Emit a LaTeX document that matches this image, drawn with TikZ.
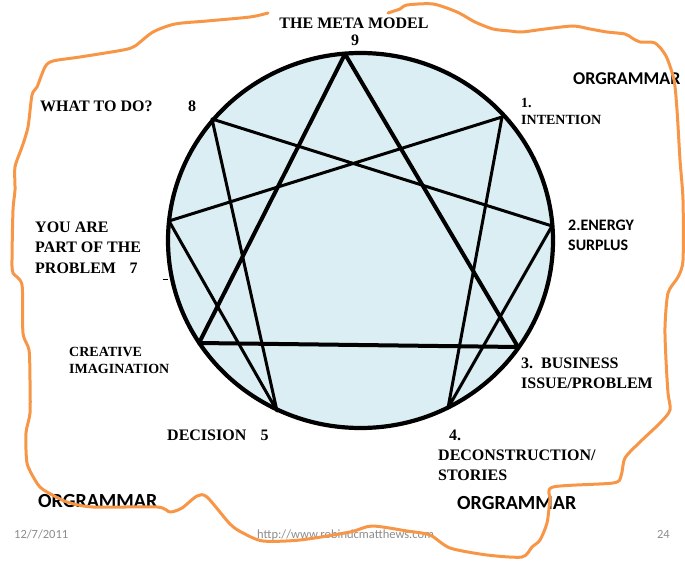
\documentclass[tikz,border=0pt]{standalone}
\usepackage{fontspec}
\setmainfont{Liberation Serif}
\newfontfamily\calib{Carlito}
\definecolor{fillblue}{HTML}{DAEEF3}
\definecolor{orgorange}{HTML}{F79646}
\definecolor{footgray}{HTML}{8C8C8C}
\begin{document}
\begin{tikzpicture}[x=1pt,y=-1pt,
  lbl/.style={anchor=base west, inner sep=0pt, font=\bfseries\fontsize{16}{19}\selectfont},
  lblc/.style={anchor=base, inner sep=0pt, font=\bfseries\fontsize{16}{19}\selectfont},
  small/.style={anchor=base west, inner sep=0pt, font=\bfseries\fontsize{14}{17}\selectfont},
  sanslbl/.style={anchor=base west, inner sep=0pt, font=\calib\bfseries\fontsize{16}{19}\selectfont},
  orglbl/.style={anchor=base west, inner sep=0pt, font=\calib\bfseries\fontsize{20}{24}\selectfont},
  foot/.style={anchor=base west, inner sep=0pt, text=footgray, font=\calib\fontsize{12.5}{15}\selectfont},
  hexline/.style={line width=3pt, line join=round},
  triline/.style={line width=4pt, line join=round},
  rim/.style={line width=4.2pt},
  scribble/.style={orgorange, line width=3pt, line cap=round, line join=round}]
\useasboundingbox (0,0) rectangle (685,561);

% circle
\fill[fillblue] (360.5,240.5) ellipse [x radius=192.5pt, y radius=187.5pt];

% enneagram points
\coordinate (p9) at (345,54);
\coordinate (p1) at (502,117);
\coordinate (p2) at (552,226);
\coordinate (p3) at (518,347);
\coordinate (p4) at (448,408);
\coordinate (p5) at (277,411);
\coordinate (p6) at (199,343);
\coordinate (p7) at (169,221);
\coordinate (p8) at (212,119);

\draw[hexline] (p1) -- (p4) -- (p2) -- (p8) -- (p5) -- (p7) -- cycle;
\draw[triline] (p9) -- (p3) -- (p6) -- cycle;
\draw[rim] (360.5,240.5) ellipse [x radius=192.5pt, y radius=187.5pt];

% small tick
\coordinate (tickA) at (162.5,279);
\coordinate (tickB) at (168,279);
\draw[line width=0.8pt] (tickA) -- (tickB);

% labels
\node[lblc] (title) at (354,29) {THE META MODEL};
\node[lblc] (n9) at (355,46) {9};
\node[lbl] (whattodo) at (40,112) {WHAT TO DO?};
\node[lblc] (n8) at (192,112) {8};
\node[small] (n1) at (521,108) {1.};
\node[small] (intention) at (521,125) {INTENTION};
\node[sanslbl] (energy) at (568,231) {2.ENERGY};
\node[sanslbl] (surplus) at (568,251) {SURPLUS};
\node[lbl] (business) at (521,368) {3.\ \ BUSINESS};
\node[lbl] (issue) at (521,388) {ISSUE/PROBLEM};
\node[lbl] (n4) at (449,440) {4.};
\node[lbl] (decon) at (438,460) {DECONSTRUCTION/};
\node[lbl] (stories) at (438,480) {STORIES};
\node[lbl] (decision) at (167,440) {DECISION};
\node[lblc] (n5) at (264.5,440) {5};
\node[small] (creative) at (69,356) {CREATIVE};
\node[small] (imagination) at (69,373) {IMAGINATION};
\node[lbl] (youare) at (35,233) {YOU ARE};
\node[lbl] (partof) at (35,253) {PART OF THE};
\node[lbl] (problem) at (35,273) {PROBLEM};
\node[lblc] (n7) at (133.5,273) {7};

\node[orglbl, font=\calib\bfseries\fontsize{18}{22}\selectfont] (orgTR) at (573,85) {ORGRAMMAR};
\node[orglbl] (orgBL) at (38,507) {ORGRAMMAR};
\node[orglbl] (orgBR) at (457,509) {ORGRAMMAR};

% footer
\node[foot] (date) at (14,538) {12/7/2011};
\node[foot] (url) at (257,538) {http://www.robindcmatthews.com};
\node[foot, anchor=base east] (page) at (670,538) {24};

% orange scribble
\draw[scribble] plot[smooth, tension=0.45] coordinates {
 (388,13) (400,9) (407,5) (433,4) (457,12) (475,22) (493,29) (510,31)
 (522,32) (545,29) (573,26) (590,29) (607,32) (625,34) (632,38) (640,42)
 (655,43) (666,56) (674,80) (677,110) (680,160) (683,200) (683,260)
 (678,277) (668,293) (665,327) (666,360) (668,393) (670,410) (660,423)
 (640,442) (625,458) (621,476) (613,483) (553,487) (550,500) (547,523)
 (540,540) (532,547) (522,557) (487,555) (450,548) (430,535) (407,531)
 (372,526) (350,532) (300,540) (263,541) (243,533) (230,524) (207,497)
 (197,496) (182,508) (170,512) (157,507) (93,507) (67,502) (47,492)
 (40,487) (35,480) (27,463) (26,433) (30,413) (30,380) (29,350) (23,333)
 (22,285) (13,273) (12,260) (13,210) (15,190) (15,167) (22,147) (28,127)
 (32,95) (37,87) (45,67) (53,61) (80,57) (123,50) (135,46) (153,32)
 (175,24) (207,21) (250,17) (268,13)};
\end{tikzpicture}
\end{document}
